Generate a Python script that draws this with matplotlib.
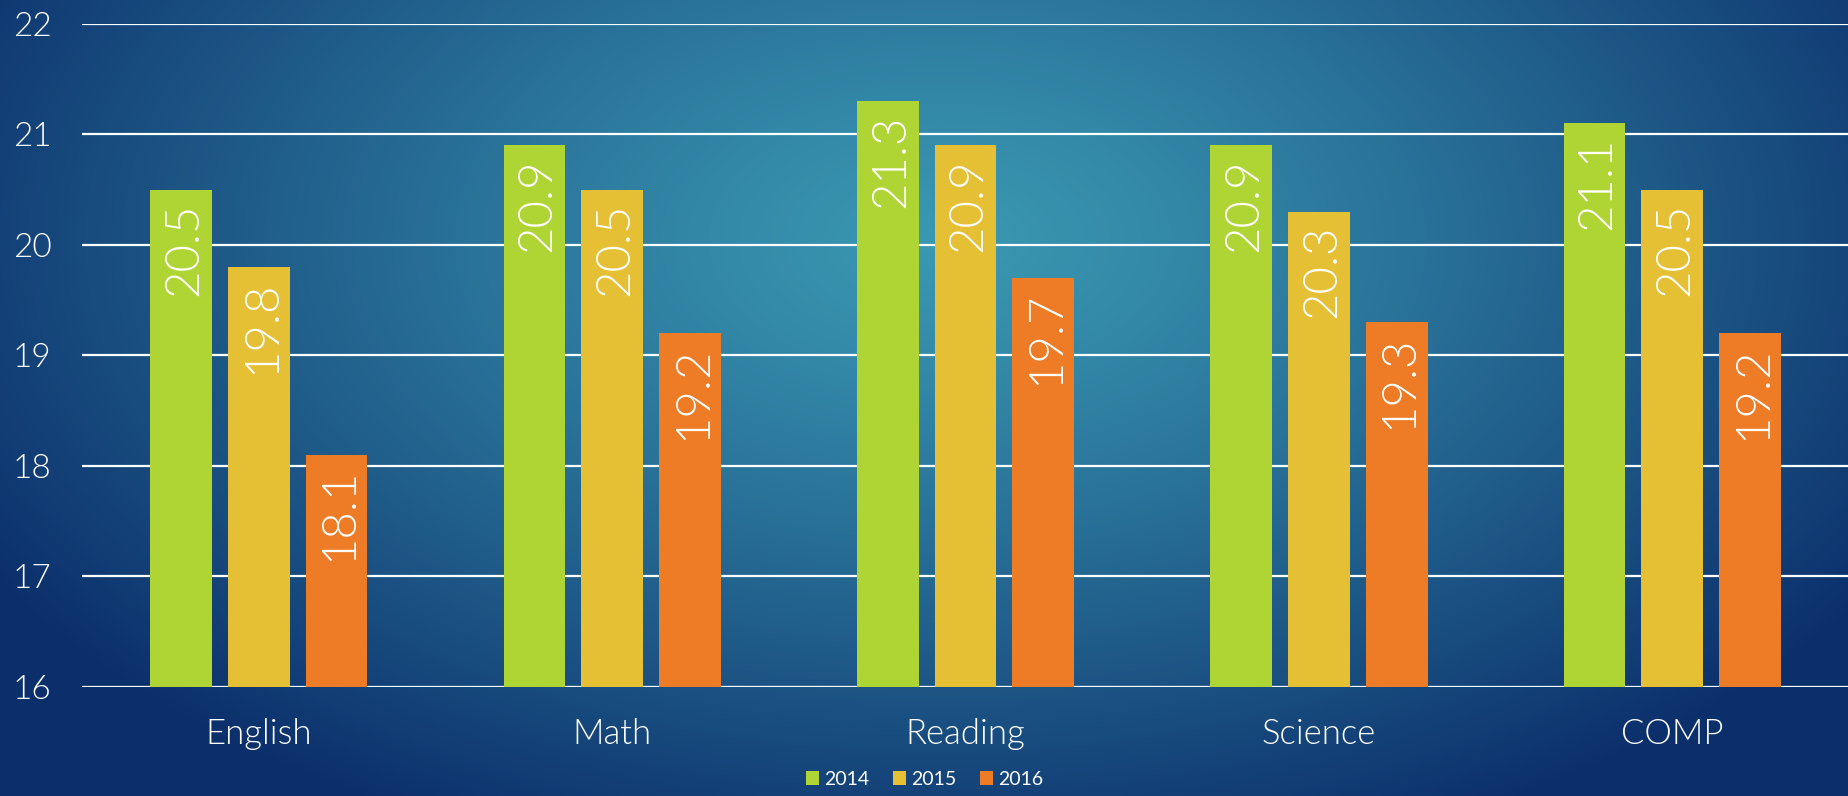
import matplotlib.pyplot as plt
import numpy as np

plt.rcParams['font.family'] = ['Lato', 'DejaVu Sans']

subjects = ["English", "Math", "Reading", "Science", "COMP"]
years = ["2014", "2015", "2016"]
scores_2014 = [20.5, 20.9, 21.3, 20.9, 21.1]
scores_2015 = [19.8, 20.5, 20.9, 20.3, 20.5]
scores_2016 = [18.1, 19.2, 19.7, 19.3, 19.2]
colors = ["#afd534", "#e5c034", "#ee7b25"]
fw = 300

fig = plt.figure(figsize=(18.49, 7.96), dpi=100)

# background: soft radial glow, teal in the middle, navy at the edges
bg = fig.add_axes([0, 0, 1, 1], zorder=0)
h, w = 796, 1849
yy, xx = np.mgrid[0:h, 0:w]
r = np.sqrt(((xx - 940) / 1100.0) ** 2 + ((yy - 240) / 650.0) ** 2)
t = np.clip(r, 0, 1) ** 1.2
inner = np.array([0x3a, 0x98, 0xb2]) / 255
outer = np.array([0x0c, 0x30, 0x6c]) / 255
img = inner[None, None, :] * (1 - t[..., None]) + outer[None, None, :] * t[..., None]
bg.imshow(img, aspect='auto', extent=[0, 1, 0, 1])
bg.axis('off')

ax = fig.add_axes([0.0444, 0.137, 0.9556, 0.833], zorder=1)
ax.patch.set_alpha(0)

x = np.arange(len(subjects))
width = 0.175
step = 0.22
for i, (vals, c) in enumerate(zip([scores_2014, scores_2015, scores_2016], colors)):
    bars = ax.bar(x + (i - 1) * step, np.array(vals) - 16, width, bottom=16,
                  color=c, label=years[i], zorder=3)
    for b, v in zip(bars, vals):
        ax.annotate(f"{v}", (b.get_x() + b.get_width() / 2, v),
                    xytext=(3, -13), textcoords='offset pixels',
                    rotation=90, ha='center', va='top',
                    color='white', fontsize=34, fontweight=fw, zorder=4)

ax.set_xlim(-0.5, 4.5)
ax.set_ylim(16, 22)
ax.set_yticks(range(16, 23))
ax.yaxis.grid(True, color='white', linewidth=1.6, zorder=1)
ax.axhline(16, color='white', linewidth=2.2, zorder=2)
ax.set_xticks(x)
ax.set_xticklabels(subjects)
ax.tick_params(axis='x', colors='white', labelsize=25, length=0, pad=22)
ax.tick_params(axis='y', colors='white', labelsize=24, length=0, pad=22)
for lbl in ax.get_xticklabels() + ax.get_yticklabels():
    lbl.set_fontweight(fw)
for s in ax.spines.values():
    s.set_visible(False)

leg = fig.legend(loc='lower center', bbox_to_anchor=(0.5, -0.012), ncol=3,
                 frameon=False, fontsize=14, handlelength=0.7, handleheight=0.7,
                 handletextpad=0.25, columnspacing=1.2)
for txt in leg.get_texts():
    txt.set_color('white')

fig.savefig("out.png", dpi=100)
